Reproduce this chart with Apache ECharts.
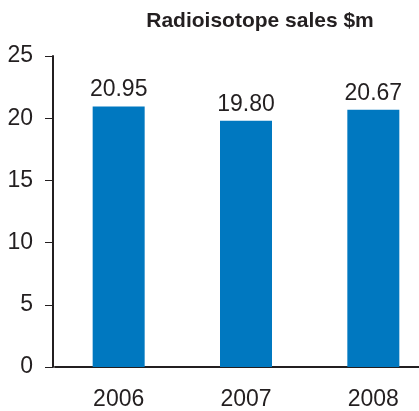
<!DOCTYPE html>
<html>
<head>
<meta charset="utf-8">
<script src="https://cdn.jsdelivr.net/npm/echarts@6/dist/echarts.min.js"></script>
<style>
	html, body { margin: 0; padding: 0; background: #fff; overflow: hidden; }
	/* 右侧坐标轴超出画面，图表比窗口稍宽 */
	#chart { width: 437px; height: 411px; }
</style>
</head>
<body>
<div id="chart"></div>
<script>
	// 数据
	var years = ['2006', '2007', '2008'];
	var sales = [20.95, 19.80, 20.67];
	var yTicks = [0, 5, 10, 15, 20, 25];

	var chart = echarts.init(document.getElementById('chart'));
	var font = '"Liberation Sans", Arial, sans-serif';
	var ink = '#231f20';

	var option = {
		animation: false,
		title: {
			text: 'Radioisotope sales $m',
			left: 255,
			textAlign: 'center',
			top: 6,
			textStyle: {
				color: ink,
				fontFamily: font,
				fontWeight: 'bold',
				fontSize: 21
			}
		},
		grid: {
			left: 55,
			right: 0,
			top: 56,
			bottom: 43,
			containLabel: false
		},
		xAxis: {
			type: 'category',
			data: years,
			axisLine: { lineStyle: { color: ink, width: 2 } },
			axisTick: { alignWithLabel: true, length: 9, lineStyle: { color: ink, width: 2 } },
			axisLabel: { color: ink, fontFamily: font, fontSize: 23, margin: 21 }
		},
		yAxis: {
			type: 'value',
			min: yTicks[0],
			max: yTicks[yTicks.length - 1],
			interval: 5,
			offset: 2,
			splitLine: { show: false },
			axisLine: { show: true, lineStyle: { color: ink, width: 2 } },
			axisTick: { show: true, length: 8, lineStyle: { color: ink, width: 1 } },
			axisLabel: { color: ink, fontFamily: font, fontSize: 23, margin: 20 }
		},
		series: [{
			type: 'bar',
			data: sales,
			barWidth: 52,
			itemStyle: { color: '#0078c0' },
			label: {
				show: true,
				position: 'top',
				distance: 5,
				color: ink,
				fontFamily: font,
				fontSize: 23,
				formatter: function (p) {
					return p.value.toFixed(2);
				}
			}
		}]
	};
	chart.setOption(option);
</script>
</body>
</html>
